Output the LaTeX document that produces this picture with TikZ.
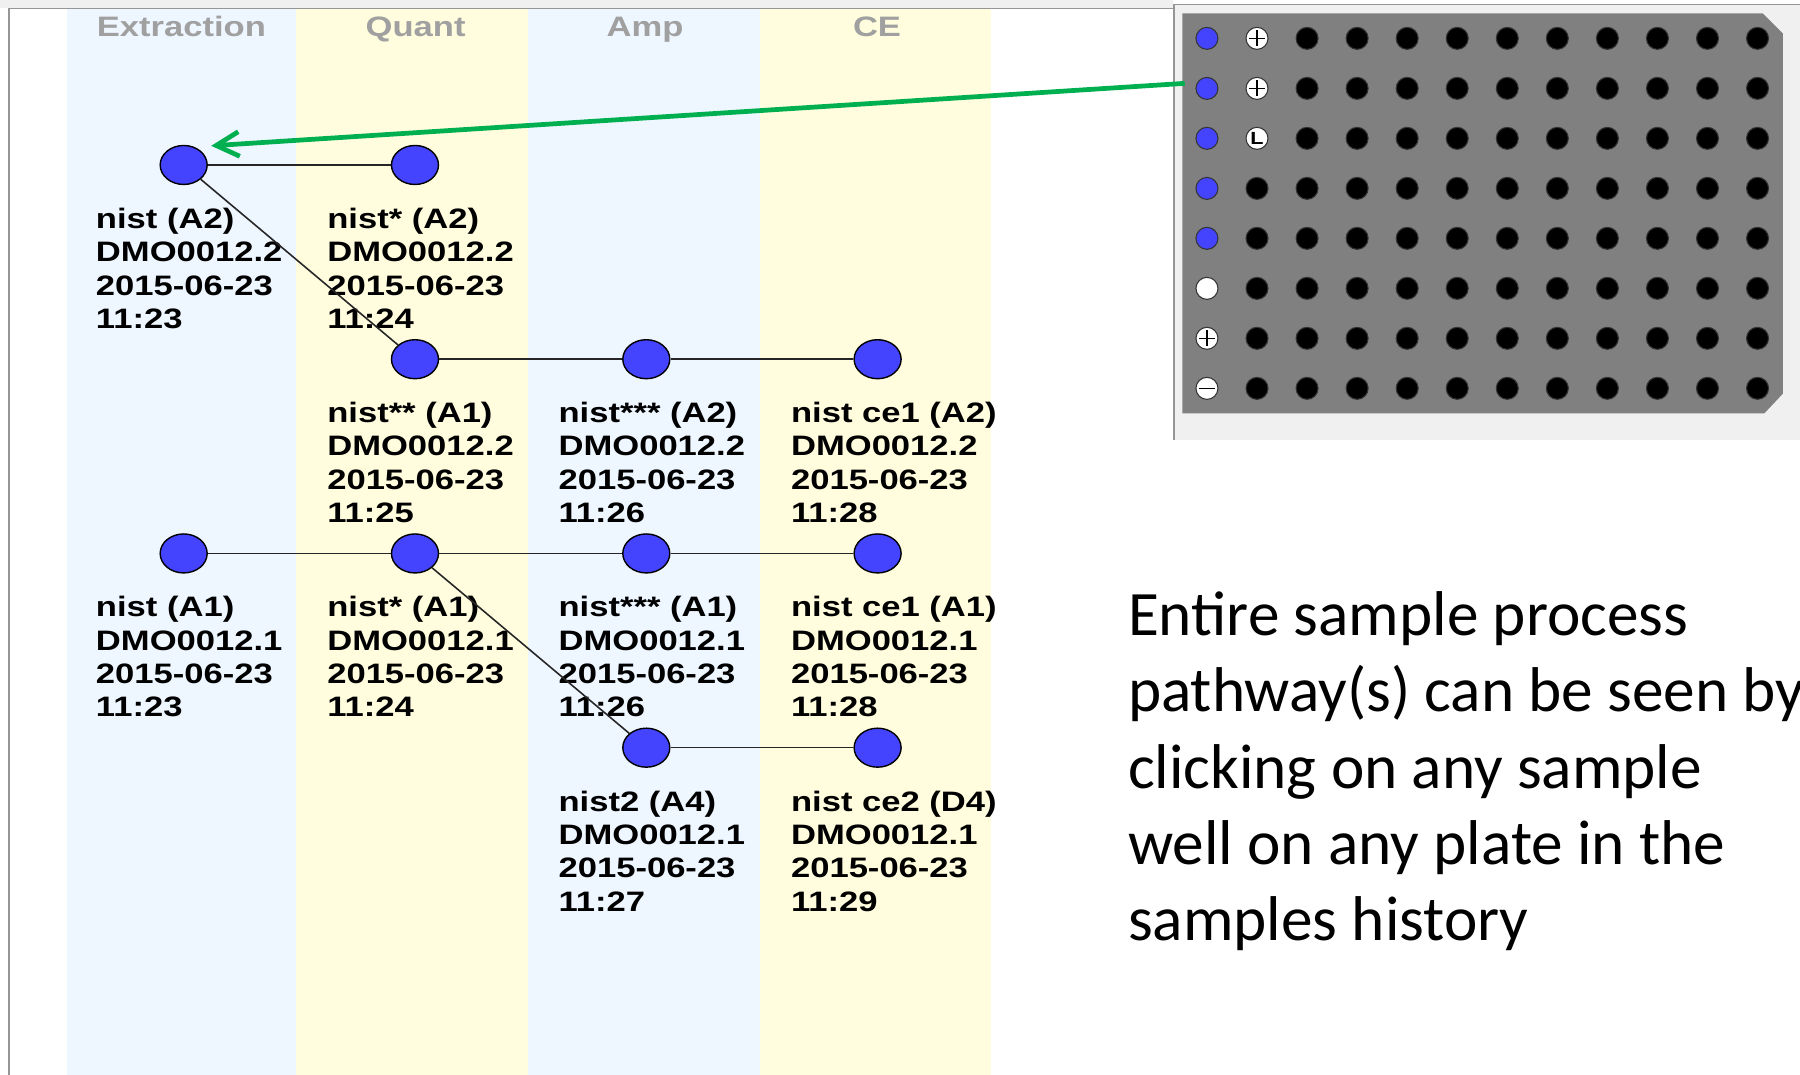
\documentclass[tikz,border=0pt]{standalone}
\usepackage{fontspec}
\usepackage{xcolor}
\definecolor{Col1}{RGB}{68,68,255}
\definecolor{Col2}{RGB}{0,176,80}
\definecolor{BandA}{RGB}{238,246,255}
\definecolor{BandB}{RGB}{255,253,222}
\definecolor{ColHead}{RGB}{160,160,160}
\definecolor{ColFrame}{RGB}{150,150,150}
\definecolor{ColPanel}{RGB}{240,240,240}
\definecolor{ColPlate}{RGB}{128,128,128}
\newfontfamily\LabelFont{Liberation Sans}[FakeStretch=1.23]
\newfontfamily\NoteFont{Carlito}
\usepackage{tikz}
\usetikzlibrary{shapes}
\usetikzlibrary{arrows.meta}
\tikzstyle{Node}=[ellipse,draw=black,fill=Col1,minimum width=4.7mm,
minimum height=3.9mm,inner sep=0pt,line width=0.4pt]
\tikzstyle{Edge}=[draw=black!85,line width=0.45pt]
\tikzstyle{NodeST}=[anchor=north west,inner sep=0pt,align=left,
font=\LabelFont\bfseries\fontsize{8}{9.5}\selectfont]
\tikzstyle{NodeHead}=[anchor=base,inner sep=0pt,text=ColHead,
font=\LabelFont\bfseries\fontsize{8}{9.5}\selectfont]
\tikzstyle{Well}=[circle,draw=black!80,fill=black,minimum size=2.2mm,
inner sep=0pt,line width=0.3pt]
\tikzstyle{WellB}=[Well,fill=Col1]
\tikzstyle{WellW}=[Well,fill=white]
\tikzstyle{Mark}=[draw=black,line width=0.35pt,shorten >=0.35mm,shorten <=0.35mm]
\tikzstyle{Pointer}=[draw=Col2,line width=1.35pt,
-{Straight Barb[length=6.5pt,width=7pt]}]

\begin{document}
\begin{tikzpicture}[x=0.1148mm,y=-0.1148mm]
        \useasboundingbox (0,0) rectangle (1568,936);
        % history frame with the four stage bands
        \fill[ColPanel] (0,0) rectangle (1022,7);
        \fill[BandA] (58,8) rectangle (258,936);
        \fill[BandB] (258,8) rectangle (460,936);
        \fill[BandA] (460,8) rectangle (662,936);
        \fill[BandB] (662,8) rectangle (863,936);
        \draw[ColFrame,line width=0.5pt] (8,936) -- (8,7.5) -- (1022,7.5);
        \node[NodeHead](h0)at(158,31.4){Extraction};
        \node[NodeHead](h1)at(362,31.4){Quant};
        \node[NodeHead](h2)at(562,31.4){Amp};
        \node[NodeHead](h3)at(764,31.4){CE};
        % samples
        \node[Node](0)at(160.0,143.7){};
        \node[Node](1)at(361.5,143.7){};
        \node[Node](2)at(361.5,312.9){};
        \node[Node](3)at(563.0,312.9){};
        \node[Node](4)at(764.5,312.9){};
        \node[Node](5)at(160.0,482.1){};
        \node[Node](6)at(361.5,482.1){};
        \node[Node](7)at(563.0,482.1){};
        \node[Node](8)at(764.5,482.1){};
        \node[Node](9)at(563.0,651.3){};
        \node[Node](10)at(764.5,651.3){};
        \node[NodeST](l0)at(83.0,180.5){nist (A2)\\DMO0012.2\\2015-06-23\\11:23};
        \node[NodeST](l1)at(284.5,180.5){nist* (A2)\\DMO0012.2\\2015-06-23\\11:24};
        \node[NodeST](l2)at(284.5,349.7){nist** (A1)\\DMO0012.2\\2015-06-23\\11:25};
        \node[NodeST](l3)at(486.0,349.7){nist*** (A2)\\DMO0012.2\\2015-06-23\\11:26};
        \node[NodeST](l4)at(688.5,349.7){nist ce1 (A2)\\DMO0012.2\\2015-06-23\\11:28};
        \node[NodeST](l5)at(83.0,518.9){nist (A1)\\DMO0012.1\\2015-06-23\\11:23};
        \node[NodeST](l6)at(284.5,518.9){nist* (A1)\\DMO0012.1\\2015-06-23\\11:24};
        \node[NodeST](l7)at(486.0,518.9){nist*** (A1)\\DMO0012.1\\2015-06-23\\11:26};
        \node[NodeST](l8)at(688.5,518.9){nist ce1 (A1)\\DMO0012.1\\2015-06-23\\11:28};
        \node[NodeST](l9)at(486.0,688.1){nist2 (A4)\\DMO0012.1\\2015-06-23\\11:27};
        \node[NodeST](l10)at(688.5,688.1){nist ce2 (D4)\\DMO0012.1\\2015-06-23\\11:29};
        \draw[Edge](0)--(1);
        \draw[Edge](0)--(2);
        \draw[Edge](2)--(3);
        \draw[Edge](3)--(4);
        \draw[Edge](5)--(6);
        \draw[Edge](6)--(7);
        \draw[Edge](7)--(8);
        \draw[Edge](6)--(9);
        \draw[Edge](9)--(10);
        % plate view
        \fill[ColPanel] (1022,4) rectangle (1568,383);
        \draw[ColFrame,line width=0.5pt] (1023,383) -- (1023,4) -- (1568,4);
        \fill[ColPlate] (1030,11.6) -- (1535.5,11.6) -- (1553,29) -- (1553,343)
            -- (1537,360) -- (1030,360) -- cycle;
        \foreach \r in {1,...,8}{
            \foreach \c in {3,...,12}{
                \node[Well](w\r-\c)at({1051.4+43.6*(\c-1)},{33.4+43.55*(\r-1)}){};
            }
        }
        \node[WellB](w1-1)at(1051.4,33.4){};
        \node[WellB](w2-1)at(1051.4,77.0){};
        \node[WellB](w3-1)at(1051.4,120.5){};
        \node[WellB](w4-1)at(1051.4,164.1){};
        \node[WellB](w5-1)at(1051.4,207.6){};
        \node[WellW](w6-1)at(1051.4,251.2){};
        \node[WellW](w7-1)at(1051.4,294.7){};
        \node[WellW](w8-1)at(1051.4,338.3){};
        \node[WellW](w1-2)at(1095.0,33.4){};
        \node[WellW](w2-2)at(1095.0,77.0){};
        \node[WellW,font=\LabelFont\bfseries\fontsize{5}{5}\selectfont](w3-2)at(1095.0,120.5){L};
        \node[Well](w4-2)at(1095.0,164.1){};
        \node[Well](w5-2)at(1095.0,207.6){};
        \node[Well](w6-2)at(1095.0,251.2){};
        \node[Well](w7-2)at(1095.0,294.7){};
        \node[Well](w8-2)at(1095.0,338.3){};
        \draw[Mark](w1-2.north)--(w1-2.south);
        \draw[Mark](w1-2.west)--(w1-2.east);
        \draw[Mark](w2-2.north)--(w2-2.south);
        \draw[Mark](w2-2.west)--(w2-2.east);
        \draw[Mark](w7-1.north)--(w7-1.south);
        \draw[Mark](w7-1.west)--(w7-1.east);
        \draw[Mark](w8-1.west)--(w8-1.east);
        % pointer from the picked well back to its first sample
        \coordinate(s)at(1032,72.6);
        \draw[Pointer](s)--([shift={(24,-16.7)}]0.center);
        \node[anchor=north west,inner sep=0pt,align=left,
            font=\NoteFont\fontsize{18}{21.65}\selectfont](t)at(982,515){Entire sample process\\pathway(s) can be seen by\\clicking on any sample\\well on any plate in the\\samples history};
    \end{tikzpicture}
\end{document}
